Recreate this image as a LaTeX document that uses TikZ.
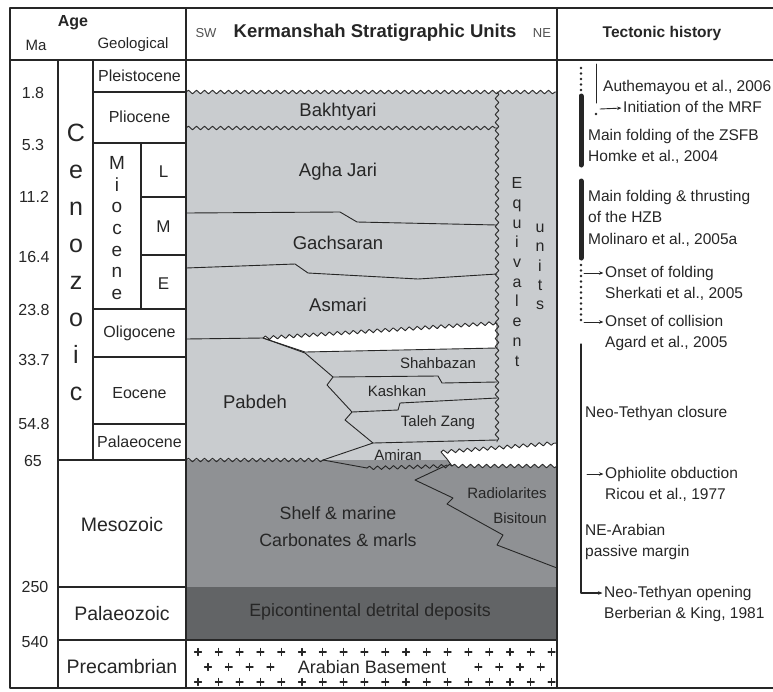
\documentclass[tikz,border=0pt]{standalone}
\usepackage{fontspec}
\setmainfont{Liberation Sans}
\usetikzlibrary{arrows.meta,positioning,decorations.pathmorphing}
\tikzset{every picture/.style={line cap=round, line join=round}}
\definecolor{ink}{RGB}{38,38,38}
\definecolor{cenofill}{RGB}{201,204,207}
\definecolor{mesofill}{RGB}{143,145,148}
\definecolor{palfill}{RGB}{98,100,102}
\tikzset{frame/.style={draw=ink, line width=1.8pt}}
\tikzset{rule/.style={draw=ink, line width=1.3pt}}
\tikzset{bound/.style={draw=ink, line width=0.9pt}}
\tikzset{wave/.style={decoration={snake, segment length=8pt, amplitude=1.8pt}}}
\tikzset{lbl/.style={text=ink, inner sep=0pt}}
\tikzset{hdr/.style={lbl, font=\fontsize{16}{18}\selectfont\bfseries}}
\tikzset{sub/.style={lbl, font=\fontsize{15}{17}\selectfont}}
\tikzset{ma/.style={lbl, font=\fontsize{16}{18}\selectfont}}
\tikzset{epoch/.style={lbl, font=\fontsize{16}{18}\selectfont}}
\tikzset{era/.style={lbl, font=\fontsize{19.5}{22}\selectfont}}
\tikzset{unit/.style={lbl, font=\fontsize{18.5}{21}\selectfont}}
\tikzset{subunit/.style={lbl, font=\fontsize{15}{17}\selectfont}}
\tikzset{tect/.style={lbl, font=\fontsize{15.5}{18}\selectfont, anchor=west,
  text height=11.5pt, text depth=3.5pt}}
\tikzset{arr/.style={-{Stealth[length=4.5pt,width=3.5pt]}, draw=ink, line width=0.9pt, shorten >=1.5pt}}
\tikzset{cross/.style={draw=ink, line width=1.1pt}}

\begin{document}
\begin{tikzpicture}[x=1pt,y=-1pt]
  \useasboundingbox (0,0) rectangle (773,691);

  % Fills of the stratigraphic column
  \fill[cenofill] (186,92) decorate[wave]{-- (557,92)} -- (557,460) -- (186,460) -- cycle;
  \fill[mesofill] (186,460) rectangle (557,587);
  \fill[palfill] (186,587) rectangle (557,640);

  % Gaps
  \filldraw[fill=white, bound] (263,338) decorate[wave]{-- (497,323)} -- (497,348) -- (305,352) -- cycle;
  \filldraw[fill=white, bound] (441,452) decorate[wave]{-- (557,443)} -- (557,466)
    decorate[wave]{-- (452,466)} -- (447,459) -- cycle;

  % Boundaries
  \draw[bound, wave, decorate] (186,92) -- (557,92);
  \draw[bound, wave, decorate] (186,128) -- (497,128);
  \draw[bound, wave, decorate] (497,92) -- (497,442);
  \draw[bound] (186,213) -- (340,212) -- (357,222) -- (497,225);
  \draw[bound] (186,268) -- (295,264) -- (308,273) -- (418,279) -- (497,274);
  \draw[bound] (186,339) -- (263,338) -- (305,353) -- (333,377) -- (327,385) -- (352,412)
    -- (345,420) -- (373,443) -- (323,460);
  \draw[bound] (333,377) -- (438,376) -- (442,383) -- (497,382);
  \draw[bound] (352,412) -- (398,410) -- (400,403) -- (497,398);
  \draw[bound] (373,443) -- (497,440);
  \draw[bound, wave, decorate] (186,460) -- (323,460);
  \draw[bound] (323,460) -- (367,468);
  \draw[bound, wave, decorate] (367,468) -- (452,466);
  \draw[bound] (447,465) -- (415,480) -- (453,498) -- (447,504) -- (503,535) -- (497,545) -- (557,568);

  % Basement crosses
  \foreach \i in {0,...,17} {
    \draw[cross] (198+20.8*\i,652) +(-3.5,0) -- +(3.5,0) +(0,-3.5) -- +(0,3.5);
    \draw[cross] (198+20.8*\i,682) +(-3.5,0) -- +(3.5,0) +(0,-3.5) -- +(0,3.5);
  }
  \foreach \i in {0,1,2,3,13,14,15,16}
    \draw[cross] (208+20.8*\i,667) +(-3.5,0) -- +(3.5,0) +(0,-3.5) -- +(0,3.5);

  % Table rules
  \draw[frame] (773,8) -- (10,8) -- (10,688) -- (773,688);
  \draw[frame] (10,60) -- (773,60);
  \draw[frame] (186,8) -- (186,688);
  \draw[frame] (557,8) -- (557,688);
  \draw[rule] (58,60) -- (58,688);
  \draw[rule] (93,60) -- (93,460);
  \draw[rule] (141,143) -- (141,309);
  \draw[rule] (93,92) -- (186,92);
  \draw[rule] (93,143) -- (186,143);
  \draw[rule] (141,197) -- (186,197);
  \draw[rule] (141,255) -- (186,255);
  \draw[rule] (93,309) -- (186,309);
  \draw[rule] (93,357) -- (186,357);
  \draw[rule] (93,424) -- (186,424);
  \draw[rule] (58,460) -- (186,460);
  \draw[rule] (58,587) -- (186,587);
  \draw[rule] (58,640) -- (557,640);

  % Header
  \node[hdr] (age) at (73,23) {Age};
  \node[sub] (ma) at (36,45) {Ma};
  \node[sub] (geol) at (133,45) {Geological};
  \node[lbl, font=\fontsize{13}{15}\selectfont, text=ink!80] (sw) at (206,33) {SW};
  \node[hdr, font=\fontsize{18.5}{20}\selectfont\bfseries] (kerm) at (375,33) {Kermanshah Stratigraphic Units};
  \node[lbl, font=\fontsize{13}{15}\selectfont, text=ink!80] (ne) at (542,33) {NE};
  \node[hdr, font=\fontsize{15.5}{18}\selectfont\bfseries] (tecth) at (662,33) {Tectonic history};

  % Ages in Ma
  \node[ma] (a1) at (33,93) {1.8};
  \node[ma] (a2) at (33,145) {5.3};
  \node[ma] (a3) at (34,197) {11.2};
  \node[ma] (a4) at (34,257) {16.4};
  \node[ma] (a5) at (34,310) {23.8};
  \node[ma] (a6) at (34,360) {33.7};
  \node[ma] (a7) at (34,424) {54.8};
  \node[ma] (a8) at (33,461) {65};
  \node[ma] (a9) at (35,587) {250};
  \node[ma] (a10) at (35,642) {540};

  % Geological time
  \node[lbl, font=\fontsize{25}{37}\selectfont, align=center] (ceno) at (76,262) {C\\e\\n\\o\\z\\o\\i\\c};
  \node[lbl, font=\fontsize{19}{21.7}\selectfont, align=center] (mio) at (117,228) {M\\i\\o\\c\\e\\n\\e};
  \node[epoch] (pleist) at (139.5,76) {Pleistocene};
  \node[epoch] (plio) at (139.5,117) {Pliocene};
  \node[epoch, font=\fontsize{17}{19}\selectfont] (late) at (163.5,172) {L};
  \node[epoch, font=\fontsize{17}{19}\selectfont] (middle) at (163.5,227) {M};
  \node[epoch, font=\fontsize{17}{19}\selectfont] (early) at (163.5,284) {E};
  \node[epoch] (oligo) at (139.5,333) {Oligocene};
  \node[epoch] (eoc) at (139.5,393) {Eocene};
  \node[epoch] (palc) at (139.5,442) {Palaeocene};
  \node[era] (meso) at (122,525) {Mesozoic};
  \node[era] (palz) at (122,614) {Palaeozoic};
  \node[era] (precam) at (122,667) {Precambrian};

  % Stratigraphic units
  \node[unit] (bakh) at (338,112) {Bakhtyari};
  \node[unit] (agha) at (338,172) {Agha Jari};
  \node[unit] (gach) at (338,243) {Gachsaran};
  \node[unit] (asm) at (338,305) {Asmari};
  \node[unit] (pab) at (255,402) {Pabdeh};
  \node[subunit] (shah) at (438,363) {Shahbazan};
  \node[subunit] (kash) at (397,391) {Kashkan};
  \node[subunit] (taleh) at (438,423) {Taleh Zang};
  \node[subunit] (amir) at (398,455) {Amiran};
  \node[subunit] (radio) at (507,493) {Radiolarites};
  \node[subunit] (bisi) at (520,518) {Bisitoun};
  \node[lbl, font=\fontsize{17.8}{27}\selectfont, align=center] (shelf) at (338,527) {Shelf \& marine\\Carbonates \& marls};
  \node[lbl, font=\fontsize{17.8}{20}\selectfont] (epi) at (370,612) {Epicontinental detrital deposits};
  \node[lbl, font=\fontsize{18}{20}\selectfont] (basem) at (372,667) {Arabian Basement};
  \node[lbl, font=\fontsize{16}{19.7}\selectfont, align=center] (equiv) at (517,272) {E\\q\\u\\i\\v\\a\\l\\e\\n\\t};
  \node[lbl, font=\fontsize{16}{19.3}\selectfont, align=center] (units) at (540,267) {u\\n\\i\\t\\s};

  % Tectonic history
  \draw[ink, line width=2.6pt, dash pattern=on 0pt off 5.5pt] (581,68) -- (581,90);
  \draw[ink, line width=5pt] (581,96) -- (581,165);
  \draw[ink, line width=1pt] (596,64) -- (596,103);
  \fill[ink] (596,114) circle (1.3);
  \node[tect] (authe) at (603,87) {Authemayou et al., 2006};
  \node[tect] (mrf) at (623,108) {Initiation of the MRF};
  \coordinate (mrf-tail) at (600,109);
  \draw[arr] (mrf-tail) -- (mrf.west);
  \node[tect] (zsfb) at (588,136) {Main folding of the ZSFB};
  \node[tect, below=6.5pt of zsfb.south west, anchor=north west] (homke) {Homke et al., 2004};

  \draw[ink, line width=5pt] (581,181) -- (581,258);
  \node[tect] (hzb) at (588,197) {Main folding \& thrusting};
  \node[tect, below=6.5pt of hzb.south west, anchor=north west] (hzb2) {of the HZB};
  \node[tect, below=6.5pt of hzb2.south west, anchor=north west] (molin) {Molinaro et al., 2005a};

  \draw[ink, line width=2.6pt, dash pattern=on 0pt off 5.5pt] (581,265) -- (581,322);
  \node[tect] (fold) at (605,273) {Onset of folding};
  \node[tect, below=6.5pt of fold.south west, anchor=north west] (sherk) {Sherkati et al., 2005};
  \coordinate (fold-tail) at (584,273);
  \draw[arr] (fold-tail) -- (fold.west);
  \node[tect] (coll) at (605,322) {Onset of collision};
  \node[tect, below=6.5pt of coll.south west, anchor=north west] (agard) {Agard et al., 2005};
  \coordinate (coll-tail) at (584,322);
  \draw[arr] (coll-tail) -- (coll.west);

  \node[tect] (closure) at (585,413) {Neo-Tethyan closure};
  \node[tect] (obduc) at (605,474) {Ophiolite obduction};
  \node[tect, below=6.5pt of obduc.south west, anchor=north west] (ricou) {Ricou et al., 1977};
  \coordinate (obduc-tail) at (587,474);
  \draw[arr] (obduc-tail) -- (obduc.west);
  \node[tect] (nearab) at (585,531) {NE-Arabian};
  \node[tect, below=6.5pt of nearab.south west, anchor=north west] (passive) {passive margin};
  \node[tect] (opening) at (604,593) {Neo-Tethyan opening};
  \node[tect, below=6.5pt of opening.south west, anchor=north west] (berb) {Berberian \& King, 1981};
  \coordinate (closure-top) at (581,344);
  \coordinate (closure-bend) at (581,593);
  \draw[arr, line width=1.1pt] (closure-top) -- (closure-bend) -- (opening.west);
\end{tikzpicture}
\end{document}
